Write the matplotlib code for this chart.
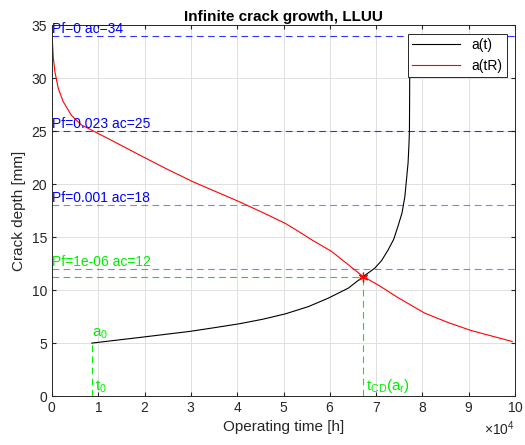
import numpy as np
import matplotlib
matplotlib.use("Agg")
import matplotlib.pyplot as plt
from matplotlib.ticker import ScalarFormatter

plt.rcParams['font.family'] = ['Liberation Sans', 'DejaVu Sans']
plt.rcParams['mathtext.default'] = 'regular'

# crack growth a(t), time in hours
t_grow = [8600, 18900, 29700, 35000, 40400, 45500, 50400, 55400, 59700, 64000, 67200, 69700,
          71200, 72600, 73800, 74700, 75600, 76200, 76900, 77100, 77200, 77300]
a_grow = [5.0, 5.53, 6.1, 6.45, 6.82, 7.25, 7.76, 8.45, 9.25, 10.19, 11.28, 12.07,
          12.8, 13.8, 14.8, 16.0, 17.3, 18.8, 22.0, 23.8, 25.1, 33.8]

# a(tR) curve
t_res = [0, 60, 280, 640, 1350, 2420, 4200, 6350, 9230, 13500, 18900, 24500, 30400, 35400,
         40400, 45400, 50400, 53300, 56100, 60400, 67200, 70400, 74700, 80500, 85500, 90500, 99400]
a_res = [34.0, 33.8, 32.0, 30.6, 29.06, 27.8, 26.5, 25.6, 24.96, 24.0, 22.76, 21.5, 20.24, 19.3,
         18.36, 17.35, 16.3, 15.53, 14.75, 13.65, 11.28, 10.5, 9.3, 7.83, 6.95, 6.19, 5.15]

# critical depths
pf_labels = ['Pf=0 ac=34', 'Pf=0.023 ac=25', 'Pf=0.001 ac=18', 'Pf=1e-06 ac=12']
ac_values = [34, 25, 18, 12]
label_colors = ['#0000ff', '#0000ff', '#0000ff', '#00ee00']
line_alpha = [0.8, 0.8, 0.5, 0.5]

t0, a0 = 8600, 5.0
t_cd, a_r = 67200, 11.28

fig = plt.figure(figsize=(5.25, 4.45), dpi=100)
ax = fig.add_axes([0.099, 0.110, 0.882, 0.833])

for ac, lab, col, al in zip(ac_values, pf_labels, label_colors, line_alpha):
    ax.axhline(ac, color='#0000ff', ls=(0, (6, 4)), lw=0.8, alpha=al)
    ax.text(0, ac, lab, color=col, fontsize=10, ha='left', va='bottom')

ax.plot(t_grow, a_grow, color='black', lw=0.8, label='a(t)')
ax.plot(t_res, a_res, color='red', lw=0.8, label='a(tR)')

# green guide lines
green = '#00ee00'
ax.plot([0, t_cd], [a_r, a_r], color=green, ls=(0, (6, 4)), lw=0.8)
ax.plot([t_cd, t_cd], [0, a_r], color=green, ls=(0, (6, 4)), lw=0.8)
ax.plot([t0, t0], [0, a0], color=green, ls=(0, (6, 4)), lw=0.8)
ax.plot([t_cd], [a_r], marker='+', color=green, ms=6, mew=0.8)
ax.plot([t_cd], [a_r], marker=(6, 2, 0), color='red', ms=7, mew=0.9)

ax.text(t0, a0 + 0.2, r'a$_0$', color=green, fontsize=11, ha='left', va='bottom')
ax.text(t0 + 600, 0.1, r't$_0$', color=green, fontsize=11, ha='left', va='bottom')
ax.text(t_cd + 600, 0.1, r't$_{CD}$(a$_r$)', color=green, fontsize=11, ha='left', va='bottom')

ax.set_xlim(0, 100000)
ax.set_ylim(0, 35)
ax.set_xticks(np.arange(0, 100001, 10000))
ax.set_yticks(np.arange(0, 36, 5))
fmt = ScalarFormatter(useMathText=True)
fmt.set_powerlimits((4, 4))
ax.xaxis.set_major_formatter(fmt)
ax.grid(True, color='#e0e0e0', lw=0.7)
ax.set_axisbelow(True)
ax.tick_params(direction='in', length=3, labelsize=10, colors='#262626', top=True, right=True)
for s in ax.spines.values():
    s.set_color('#262626')
    s.set_linewidth(0.7)

ax.set_title('Infinite crack growth, LLUU', fontsize=11, fontweight='bold', pad=3)
ax.set_xlabel('Operating time [h]', fontsize=11, color='#262626')
ax.set_ylabel('Crack depth [mm]', fontsize=11, color='#262626')

leg = ax.legend(loc='upper right', fontsize=10, fancybox=False, edgecolor='#262626',
                framealpha=1, borderaxespad=0.6, handlelength=3.5, borderpad=0.3)
leg.get_frame().set_linewidth(0.7)

fig.savefig('out.png', dpi=100)
